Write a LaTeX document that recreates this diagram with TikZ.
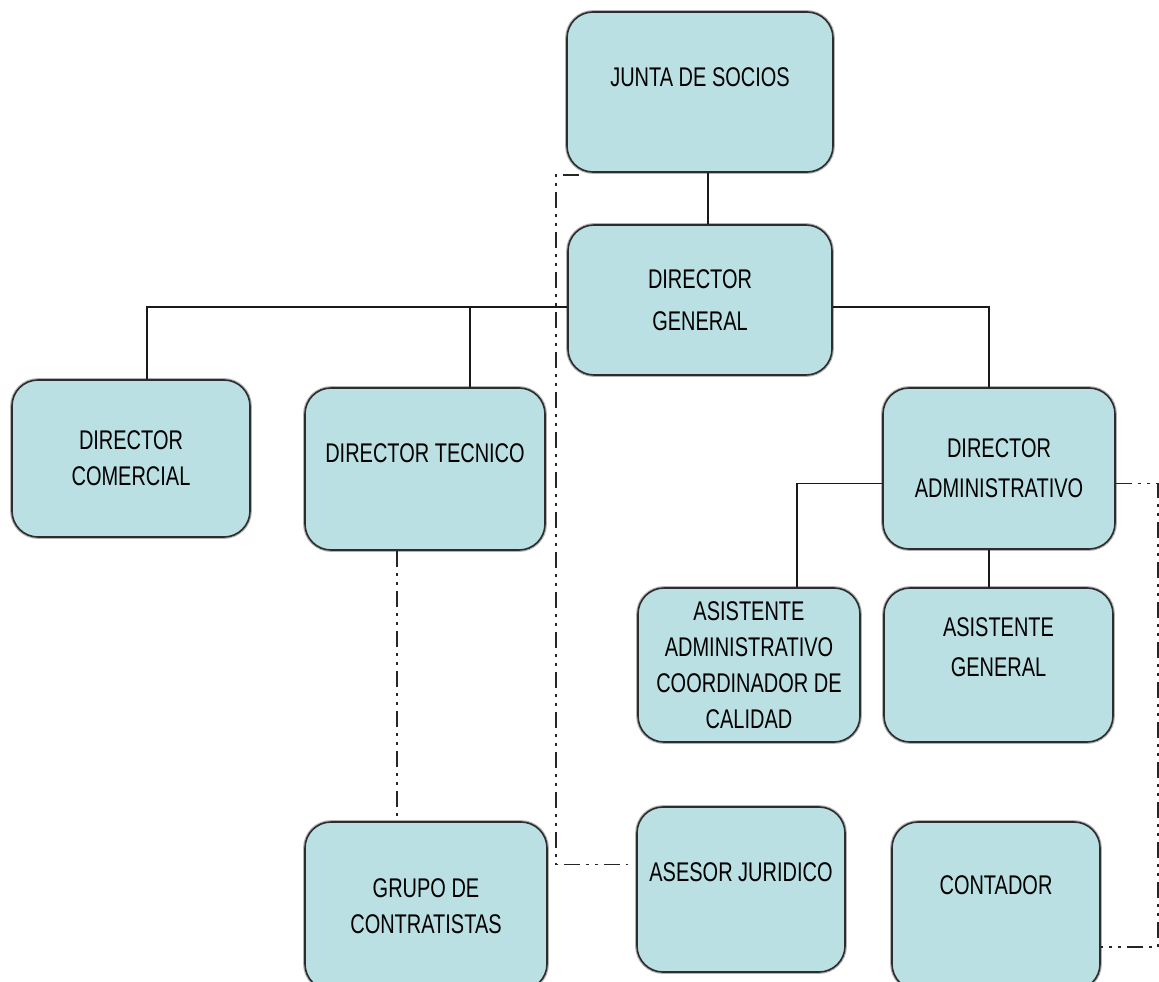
\documentclass[tikz,border=0pt]{standalone}
\usepackage{fontspec}
\setmainfont[FakeStretch=0.74]{Liberation Sans}
\definecolor{boxfill}{RGB}{186,224,227}
\definecolor{boxline}{RGB}{45,45,45}
\tikzset{
  unit/.style={rectangle, rounded corners=26pt, fill=boxfill, draw=boxline,
    line width=1.6pt, preaction={draw=gray!60, line width=3.8pt},
    align=center, inner sep=2pt,
    font=\fontsize{27}{36}\selectfont},
  link/.style={draw=black!90, line width=1.7pt},
  staff/.style={draw=black!85, line width=1.8pt,
    dash pattern=on 16pt off 6pt on 3pt off 6pt on 3pt off 6pt},
}
\begin{document}
\begin{tikzpicture}[x=1pt,y=-1pt]
\useasboundingbox (0,0) rectangle (1159,982);
\clip (0,0) rectangle (1159,982);

% units
\node[unit, minimum width=266pt, minimum height=160pt, text depth=30pt] (jsoc) at (700,92) {JUNTA DE SOCIOS};
\node[unit, minimum width=264pt, minimum height=150pt, font=\fontsize{27}{42}\selectfont] (dg) at (700,300) {DIRECTOR\\GENERAL};
\node[unit, minimum width=238pt, minimum height=157pt] (com) at (131,458.5) {DIRECTOR\\COMERCIAL};
\node[unit, minimum width=240pt, minimum height=162pt, text depth=32pt] (tec) at (425,469) {DIRECTOR TECNICO};
\node[unit, minimum width=232pt, minimum height=161pt, font=\fontsize{27}{40}\selectfont] (adm) at (999,468.5) {DIRECTOR\\ADMINISTRATIVO};
\node[unit, minimum width=222pt, minimum height=154pt] (aadm) at (749,665) {ASISTENTE\\ADMINISTRATIVO\\COORDINADOR DE\\CALIDAD};
\node[unit, minimum width=229pt, minimum height=154pt, text depth=36pt, font=\fontsize{27}{40}\selectfont] (agen) at (998.5,665) {ASISTENTE\\GENERAL};
\node[unit, minimum width=242pt, minimum height=168pt] (grp) at (426,906) {GRUPO DE\\CONTRATISTAS};
\node[unit, minimum width=208pt, minimum height=165pt, text depth=35pt] (ases) at (741,889.5) {ASESOR JURIDICO};
\node[unit, minimum width=208pt, minimum height=168pt, text depth=42pt] (cont) at (996,906) {CONTADOR};

% attachment points
\coordinate (jout) at ([xshift=8pt]jsoc.south);
\coordinate (busl) at ([yshift=-7pt]dg.west);
\coordinate (busr) at ([yshift=-7pt]dg.east);
\coordinate (comin) at ([xshift=16pt]com.north);
\coordinate (tecin) at ([xshift=45pt]tec.north);
\coordinate (admin) at ([xshift=-10pt]adm.north);
\coordinate (admw) at ([yshift=-15pt]adm.west);
\coordinate (aadmin) at ([xshift=48pt]aadm.north);
\coordinate (admout) at ([xshift=-10pt]adm.south);
\coordinate (tecout) at ([xshift=-28pt]tec.south);
\coordinate (jstaff) at ([xshift=13pt,yshift=-2pt]jsoc.south west);
\coordinate (asesin) at ([xshift=-8pt,yshift=25pt]ases.west);
\coordinate (admstaff) at ([yshift=-15pt]adm.east);
\coordinate (contin) at ([yshift=-41pt]cont.east);

% line relations
\draw[link] (jout) -- (jout |- dg.north);
\draw[link] (busl) -| (comin);
\draw[link] (tecin) -- (tecin |- busl);
\draw[link] (busr) -| (admin);
\draw[link] (admw) -| (aadmin);
\draw[link] (admout) -- (admout |- agen.north);

% staff relations
\draw[staff] (tecout) -- (tecout |- grp.north);
\draw[staff] (jstaff) -- ++(-23pt,0pt) |- (asesin);
\draw[staff] (admstaff) -- ++(42pt,0pt) |- (contin);
\end{tikzpicture}
\end{document}
